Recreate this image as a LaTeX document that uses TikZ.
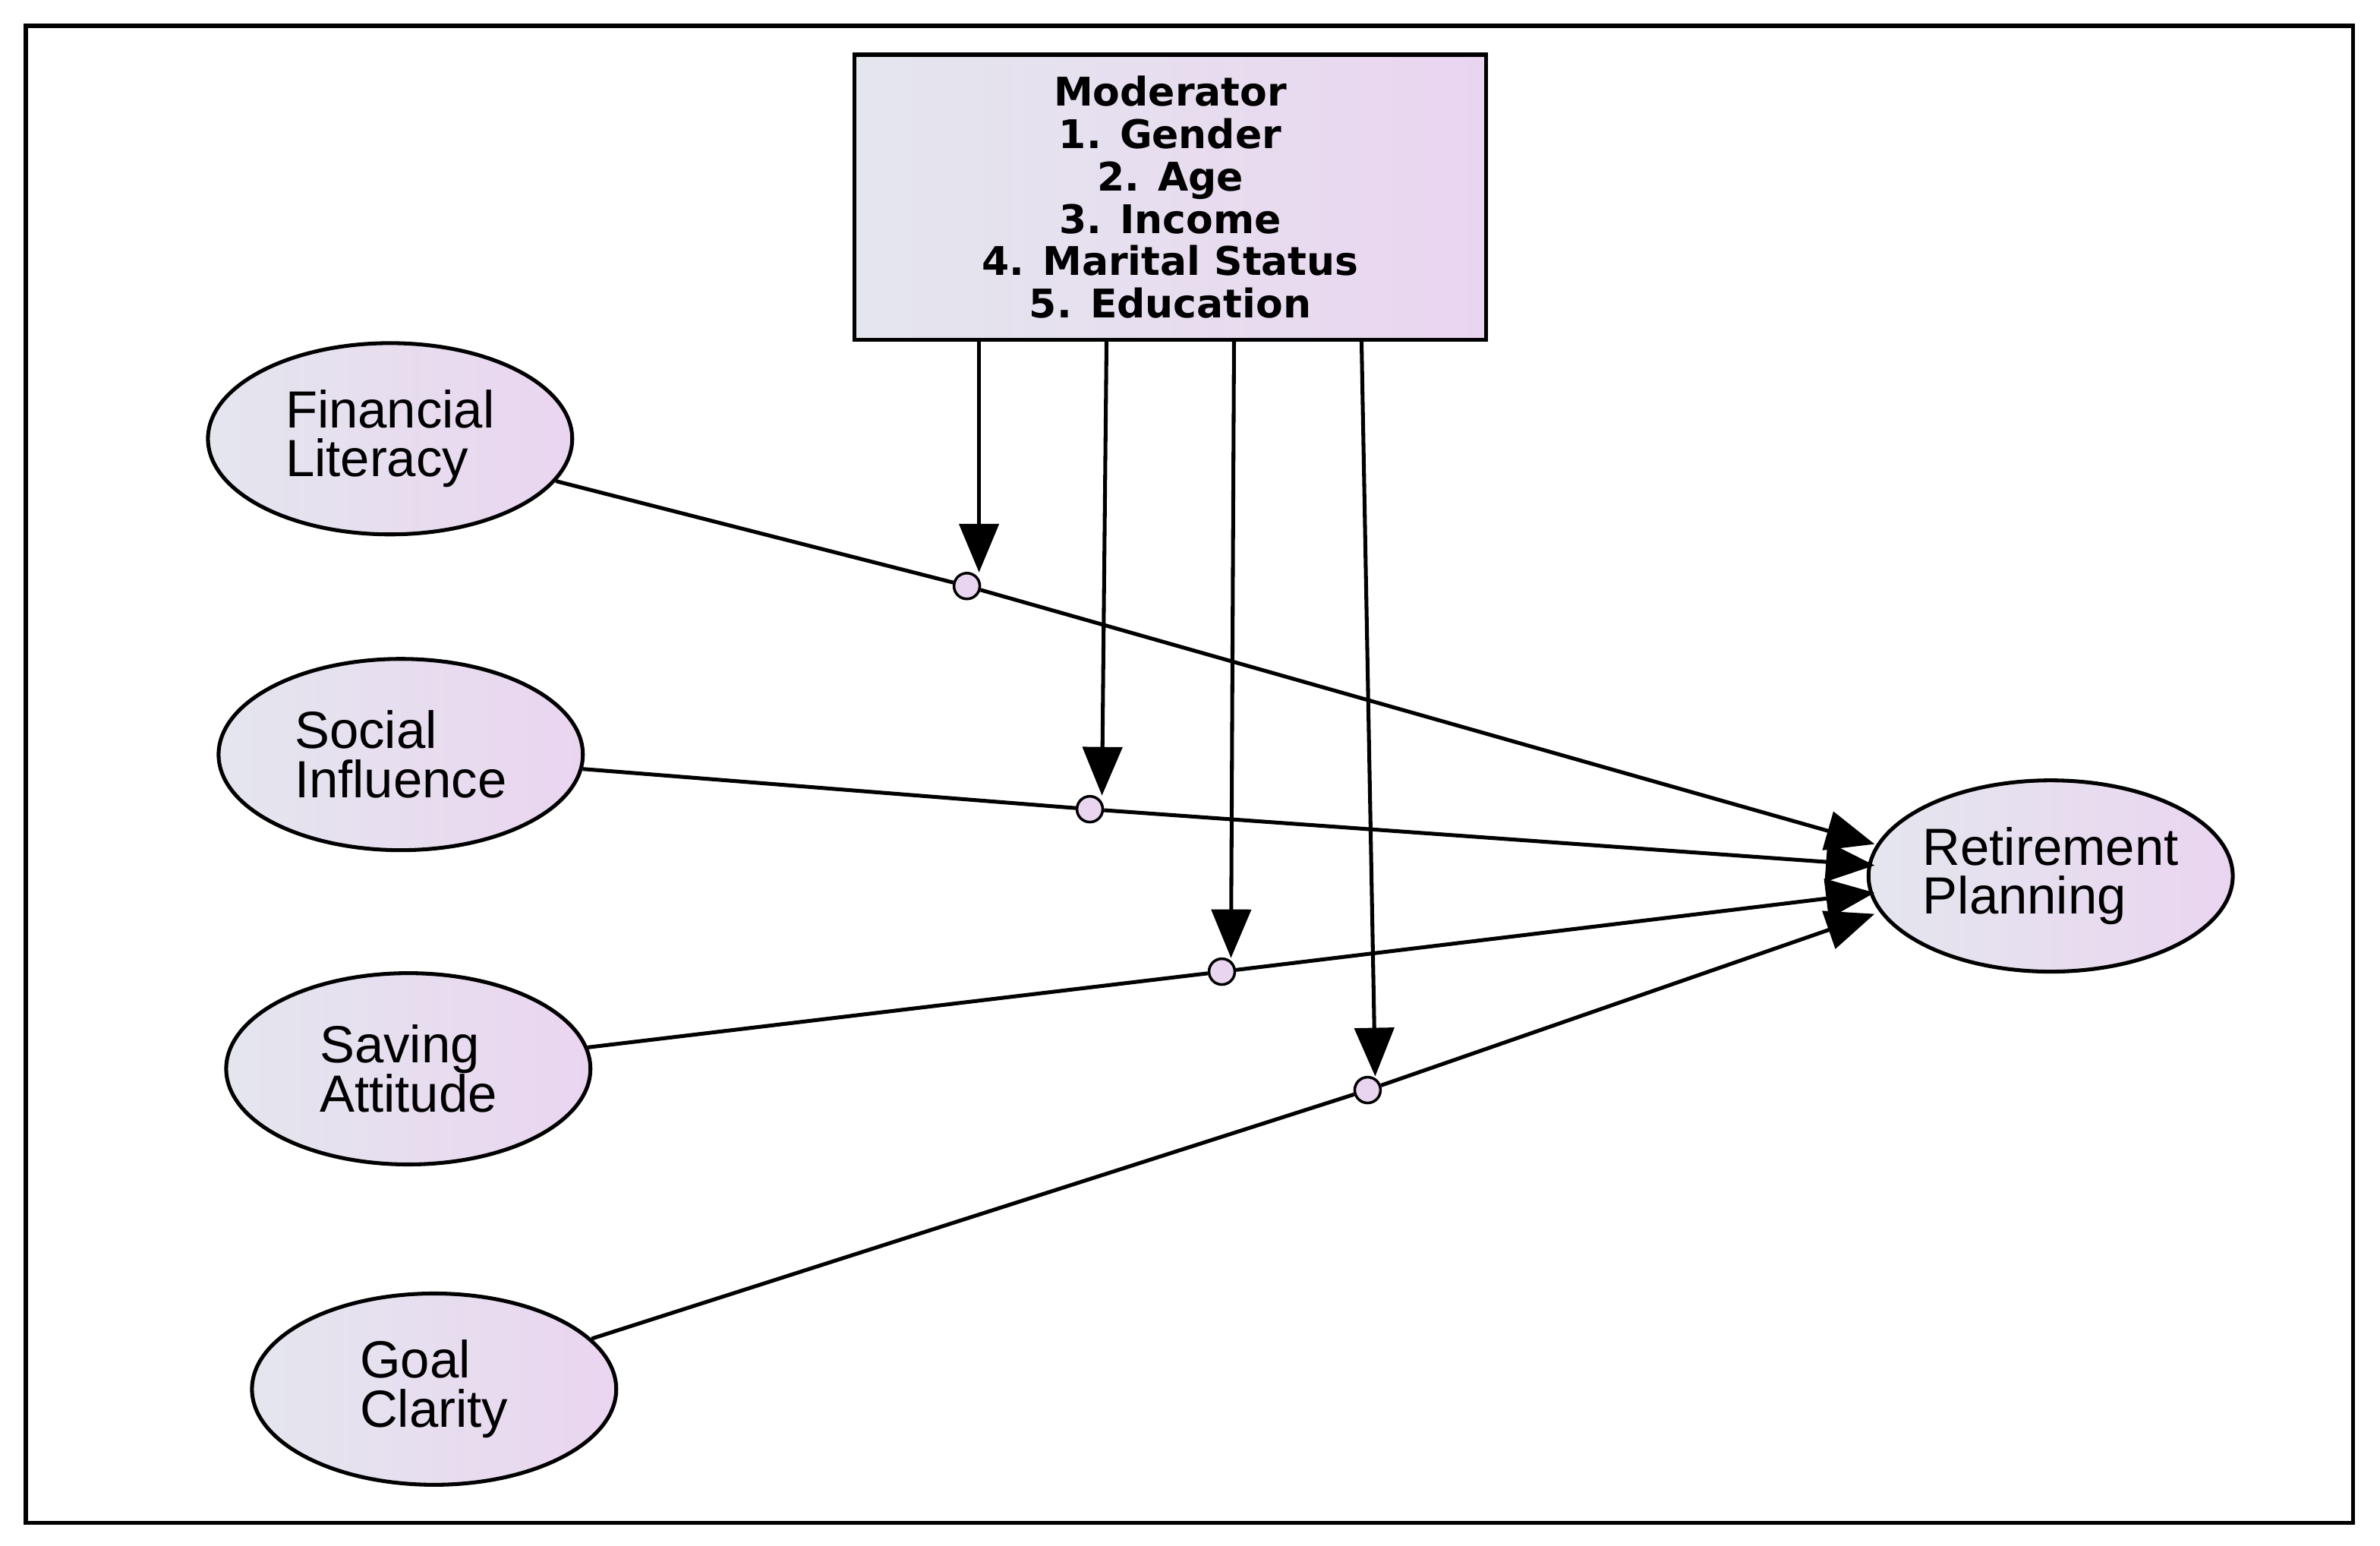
\documentclass[tikz,border=0pt]{standalone}
\usepackage{fontspec}
\setmainfont{Liberation Sans}
\newfontfamily\modfont{DejaVu Sans}
\usetikzlibrary{shapes.geometric,arrows.meta}
\begin{document}
\begin{tikzpicture}[x=0.05cm,y=-0.05cm,
  lw/.style={line width=3.6pt},
  ell/.style={ellipse,draw,lw,minimum width=12cm,minimum height=6.3cm,left color=lb,right color=lav,align=left,font=\fontsize{49}{46}\selectfont,inner sep=0pt},
  mc/.style={circle,draw,line width=2.5pt,minimum size=0.85cm,inner sep=0pt,fill=lav},
  tip/.style={-{Triangle[length=1.6cm,width=1.3cm]}},
]
\definecolor{lb}{HTML}{E4E6EE}
\definecolor{lav}{HTML}{EAD5F0}
\useasboundingbox (0,0) rectangle (1568,1018);
\draw[lw,fill=white] (17,17) rectangle (1550,1003);
\node[draw,lw,left color=lb,right color=lav,minimum width=20.8cm,minimum height=9.4cm,align=center,font=\modfont\bfseries\fontsize{37}{39.7}\selectfont] (mod) at (771,130)
 {Moderator\\1. Gender\\2. Age\\3. Income\\4. Marital Status\\5. Education};
\node[ell] (fl) at (257,289) {Financial\\Literacy};
\node[ell] (si) at (264,497) {Social\\Influence};
\node[ell] (sa) at (269,704) {Saving\\Attitude};
\node[ell] (gc) at (286,915) {Goal\\Clarity};
\node[ell] (rp) at (1351,577) {Retirement\\Planning};
\coordinate (r1) at (1235,556);
\coordinate (r2) at (1235,570);
\coordinate (r3) at (1235,588);
\coordinate (r4) at (1235,602);
\node[mc] (c1) at (637,386) {};
\node[mc] (c2) at (718,533) {};
\node[mc] (c3) at (805,640) {};
\node[mc] (c4) at (901,718) {};
\coordinate (t1) at (645,224); \coordinate (e1) at (645,377);
\coordinate (t2) at (729,224); \coordinate (e2) at (726,524);
\coordinate (t3) at (813,224); \coordinate (e3) at (811,631);
\coordinate (t4) at (897,224); \coordinate (e4) at (906,709);
\draw[lw] (fl) -- (c1); \draw[lw,tip] (c1) -- (r1);
\draw[lw] (si) -- (c2); \draw[lw,tip] (c2) -- (r2);
\draw[lw] (sa) -- (c3); \draw[lw,tip] (c3) -- (r3);
\draw[lw] (gc) -- (c4); \draw[lw,tip] (c4) -- (r4);
\draw[lw,tip] (t1) -- (e1);
\draw[lw,tip] (t2) -- (e2);
\draw[lw,tip] (t3) -- (e3);
\draw[lw,tip] (t4) -- (e4);
\end{tikzpicture}
\end{document}
